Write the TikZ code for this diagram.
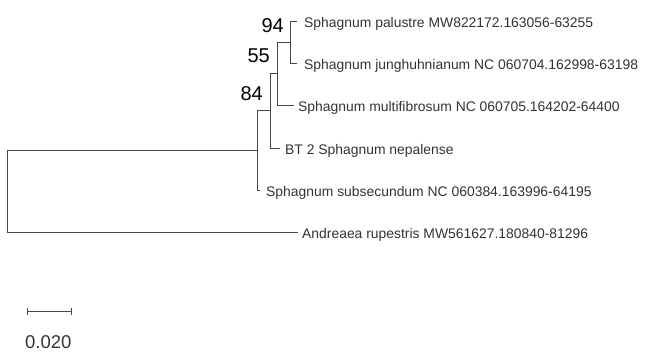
\documentclass[tikz,border=0pt]{standalone}
\usepackage{fontspec}
\setmainfont{Liberation Sans}
\usetikzlibrary{calc,arrows.meta}
\begin{document}
\begin{tikzpicture}[x=1pt,y=-1pt,
  branch/.style={draw=black!72, line width=0.9pt},
  leaf/.style={anchor=base west, inner sep=0pt, font=\fontsize{13.9}{16}\selectfont, text=black!80},
  boot/.style={anchor=base east, inner sep=0pt, font=\fontsize{20}{22}\selectfont, text=black},
  scalelabel/.style={anchor=base west, inner sep=0pt, font=\fontsize{18.5}{21}\selectfont, text=black!80},
]
\useasboundingbox (0,0) rectangle (647,351);

% internal nodes of the tree
\coordinate (root) at (7.5,191.2);
\coordinate (nP)   at (257,150.4);
\coordinate (n84)  at (270,110.75);
\coordinate (n55)  at (277,73.5);
\coordinate (n94)  at (290,42);

% tip ends
\coordinate (l1) at (296.5,21);
\coordinate (l2) at (297,63);
\coordinate (l3) at (293.5,105);
\coordinate (l4) at (279.5,148);
\coordinate (l5) at (260,190);
\coordinate (l6) at (298,232);

% branches
\draw[branch] (n94) |- (l1);
\draw[branch] (n94) |- (l2);
\draw[branch] (n55) |- (n94);
\draw[branch] (n55) |- (l3);
\draw[branch] (n84) |- (n55);
\draw[branch] (n84) |- (l4);
\draw[branch] (nP) |- (n84);
\draw[branch] (nP) |- (l5);
\draw[branch] (root) |- (nP);
\draw[branch] (root) |- (l6);

% taxon names
\node[leaf] (t1) at (304,27.5)  {Sphagnum palustre MW822172.163056-63255};
\node[leaf] (t2) at (304,69.5)  {Sphagnum junghuhnianum NC 060704.162998-63198};
\node[leaf] (t3) at (298,111.5) {Sphagnum multifibrosum NC 060705.164202-64400};
\node[leaf] (t4) at (285,154.5) {BT 2 Sphagnum nepalense};
\node[leaf] (t5) at (266,196.5) {Sphagnum subsecundum NC 060384.163996-64195};
\node[leaf] (t6) at (302,238.5) {Andreaea rupestris MW561627.180840-81296};

% bootstrap support
\node[boot] (b94) at ($(n94)+(-6,-10)$) {94};
\node[boot] (b55) at ($(n55)+(-7,-11.5)$) {55};
\node[boot] (b84) at ($(n84)+(-7,-10.75)$) {84};

% scale bar
\coordinate (sb1) at (27,311.5);
\coordinate (sb2) at (72,311.5);
\draw[branch, {Bar[width=7pt]}-{Bar[width=7pt]}] (sb1) -- (sb2);
\node[scalelabel] (sbl) at (25,348) {0.020};
\end{tikzpicture}
\end{document}
